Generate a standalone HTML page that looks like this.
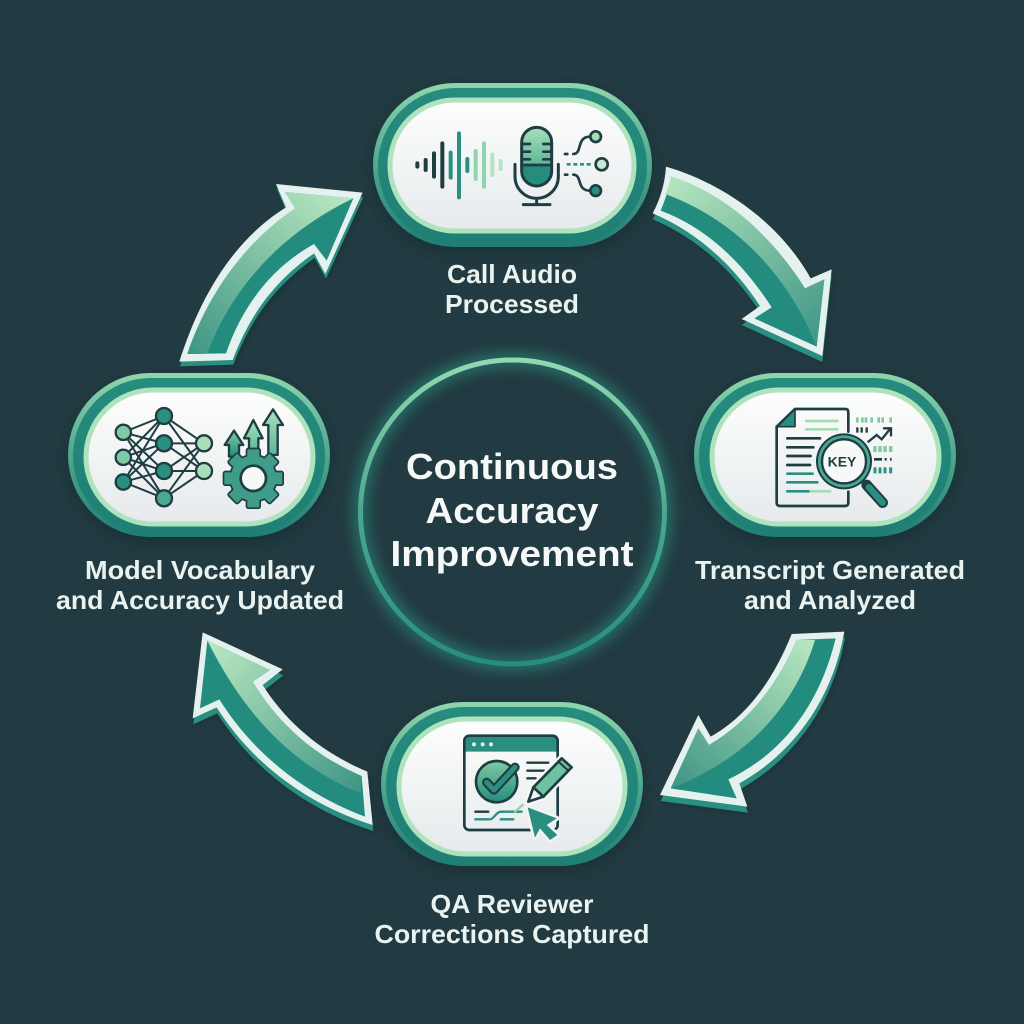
<!DOCTYPE html>
<html lang="en"><head><meta charset="utf-8"><title>Continuous Accuracy Improvement</title>
<style>html,body{margin:0;padding:0;background:#223a41}svg{display:block}text{font-family:"Liberation Sans",sans-serif}</style></head>
<body>
<svg xmlns="http://www.w3.org/2000/svg" width="1024" height="1024" viewBox="0 0 1024 1024">
<defs>
<linearGradient id="rim" x1="0" y1="0" x2="0" y2="1"><stop offset="0" stop-color="#8fd6ae"/><stop offset=".5" stop-color="#4fa890"/><stop offset="1" stop-color="#1f7e73"/></linearGradient>
<linearGradient id="ring" x1="0" y1="0" x2="0" y2="1"><stop offset="0" stop-color="#268c7e"/><stop offset="1" stop-color="#1f7f74"/></linearGradient>
<linearGradient id="white" x1="0" y1="0" x2="0" y2="1"><stop offset="0" stop-color="#fdfefd"/><stop offset="1" stop-color="#e6eaec"/></linearGradient>
<linearGradient id="a1" gradientUnits="userSpaceOnUse" x1="90" y1="80" x2="540" y2="580"><stop offset="0" stop-color="#b6e6bf"/><stop offset="1" stop-color="#3f9685"/></linearGradient>
<linearGradient id="a2" gradientUnits="userSpaceOnUse" x1="500" y1="70" x2="60" y2="550"><stop offset="0" stop-color="#b6e6bf"/><stop offset="1" stop-color="#3f9685"/></linearGradient>
<linearGradient id="a3" gradientUnits="userSpaceOnUse" x1="500" y1="60" x2="100" y2="500"><stop offset="0" stop-color="#b6e6bf"/><stop offset="1" stop-color="#3f9685"/></linearGradient>
<linearGradient id="a4" gradientUnits="userSpaceOnUse" x1="130" y1="80" x2="570" y2="510"><stop offset="0" stop-color="#b6e6bf"/><stop offset="1" stop-color="#3f9685"/></linearGradient>
<linearGradient id="g1" x1="0" y1="0" x2="0" y2="1"><stop offset="0" stop-color="#a9e0b8"/><stop offset="1" stop-color="#5db69a"/></linearGradient>
<linearGradient id="g2" x1="0" y1="0" x2="0" y2="1"><stop offset="0" stop-color="#7fcba3"/><stop offset="1" stop-color="#258c7e"/></linearGradient>
<linearGradient id="cr" x1="0" y1="0" x2="0" y2="1"><stop offset="0" stop-color="#92d9b2"/><stop offset=".5" stop-color="#4aa890"/><stop offset="1" stop-color="#258e80"/></linearGradient>
<filter id="blur" x="-30%" y="-30%" width="160%" height="160%"><feGaussianBlur stdDeviation="7"/></filter>
<filter id="blur2" x="-30%" y="-30%" width="160%" height="160%"><feGaussianBlur stdDeviation="6"/></filter>
<g id="gear"><circle cx="595" cy="355" r="68"/><rect x="577" y="268" width="36" height="30" rx="3"/><rect x="577" y="268" width="36" height="30" rx="3" transform="rotate(45 595 355)"/><rect x="577" y="268" width="36" height="30" rx="3" transform="rotate(90 595 355)"/><rect x="577" y="268" width="36" height="30" rx="3" transform="rotate(135 595 355)"/><rect x="577" y="268" width="36" height="30" rx="3" transform="rotate(180 595 355)"/><rect x="577" y="268" width="36" height="30" rx="3" transform="rotate(225 595 355)"/><rect x="577" y="268" width="36" height="30" rx="3" transform="rotate(270 595 355)"/><rect x="577" y="268" width="36" height="30" rx="3" transform="rotate(315 595 355)"/></g>
</defs>
<rect width="1024" height="1024" fill="#223a41"/>

<!-- center -->
<circle cx="512.5" cy="512" r="152" fill="none" stroke="#2a9a87" stroke-width="14" opacity=".6" filter="url(#blur)"/>
<circle cx="512.5" cy="512" r="152" fill="none" stroke="url(#cr)" stroke-width="5"/>
<g fill="#f5f9f8" font-weight="700" font-size="36" text-anchor="middle">
<text x="512" y="479" textLength="212" lengthAdjust="spacingAndGlyphs">Continuous</text>
<text x="512" y="523" textLength="173" lengthAdjust="spacingAndGlyphs">Accuracy</text>
<text x="512" y="566" textLength="243" lengthAdjust="spacingAndGlyphs">Improvement</text>
</g>

<!-- pills -->
<g>
<rect x="373" y="88" width="279" height="164" rx="82" fill="#10262b" opacity=".45" filter="url(#blur2)"/>
<rect x="373" y="83" width="279" height="164" rx="82" fill="url(#rim)"/>
<rect x="378" y="88" width="269" height="156" rx="78" fill="url(#ring)"/>
<rect x="390" y="100" width="244" height="131" rx="65" fill="url(#white)" stroke="#aee3bd" stroke-width="5"/>
</g>
<g>
<rect x="694" y="378" width="262" height="164" rx="82" fill="#10262b" opacity=".45" filter="url(#blur2)"/>
<rect x="694" y="373" width="262" height="164" rx="82" fill="url(#rim)"/>
<rect x="699" y="378" width="252" height="156" rx="78" fill="url(#ring)"/>
<rect x="712" y="390" width="227" height="134" rx="67" fill="url(#white)" stroke="#aee3bd" stroke-width="5"/>
</g>
<g>
<rect x="381" y="707" width="262" height="164" rx="82" fill="#10262b" opacity=".45" filter="url(#blur2)"/>
<rect x="381" y="702" width="262" height="164" rx="82" fill="url(#rim)"/>
<rect x="386" y="707" width="252" height="156" rx="78" fill="url(#ring)"/>
<rect x="399" y="719" width="226" height="135" rx="67" fill="url(#white)" stroke="#aee3bd" stroke-width="5"/>
</g>
<g>
<rect x="68" y="378" width="262" height="164" rx="82" fill="#10262b" opacity=".45" filter="url(#blur2)"/>
<rect x="68" y="373" width="262" height="164" rx="82" fill="url(#rim)"/>
<rect x="73" y="378" width="252" height="156" rx="78" fill="url(#ring)"/>
<rect x="86" y="390" width="227" height="134" rx="67" fill="url(#white)" stroke="#aee3bd" stroke-width="5"/>
</g>

<!-- arrow 1 -->
<g transform="translate(640 150) scale(.33333)">
<path d="M78,50C250,100 420,220 512,385L575,358L547,618L305,507L360,468C280,345 170,245 38,190C60,150 75,100 78,50Z" fill="#10262b" opacity=".35" transform="translate(6,20)" filter="url(#blur2)"/>
<path d="M78,50C250,100 420,220 512,385L575,358L547,618L305,507L360,468C280,345 170,245 38,190C60,150 75,100 78,50Z" fill="#2a8f80" transform="translate(0,18)"/>
<path d="M78,50C250,100 420,220 512,385L575,358L547,618L305,507L360,468C280,345 170,245 38,190C60,150 75,100 78,50Z" fill="#e4f1ee"/>
<path d="M93,80C250,130 390,250 495,415L553,388L530,590L343,505L395,472C300,325 190,230 62,182C75,150 88,115 93,80Z" fill="#248c7f"/>
<path d="M93,80C250,130 390,250 495,415L553,388L530,590C470,440 340,230 76,132C84,115 90,98 93,80Z" fill="url(#a1)"/>
</g>
<!-- arrow 2 -->
<g transform="translate(170 170) scale(.33333)">
<path d="M318,42L578,68L466,312L432,250C325,325 245,420 188,570L28,575C90,380 190,210 348,112Z" fill="#10262b" opacity=".35" transform="translate(8,18)" filter="url(#blur2)"/>
<path d="M318,42L578,68L466,312L432,250C325,325 245,420 188,570L28,575C90,380 190,210 348,112Z" fill="#2a8f80" transform="translate(2,14)"/>
<path d="M318,42L578,68L466,312L432,250C325,325 245,420 188,570L28,575C90,380 190,210 348,112Z" fill="#e4f1ee"/>
<path d="M345,66L550,85L470,272L432,222C310,290 220,400 168,550L52,552C110,380 220,220 376,115Z" fill="#248c7f"/>
<path d="M345,66L550,85C350,180 190,340 112,551L52,552C110,380 220,220 376,115Z" fill="url(#a2)"/>
</g>
<!-- arrow 3 -->
<g transform="translate(640 620) scale(.33333)">
<path d="M455,42L613,35C575,250 450,405 298,490L322,560L60,525L175,285L212,350C320,290 400,180 455,42Z" fill="#10262b" opacity=".35" transform="translate(6,22)" filter="url(#blur2)"/>
<path d="M455,42L613,35C575,250 450,405 298,490L322,560L60,525L175,285L212,350C320,290 400,180 455,42Z" fill="#2a8f80" transform="translate(2,18)"/>
<path d="M455,42L613,35C575,250 450,405 298,490L322,560L60,525L175,285L212,350C320,290 400,180 455,42Z" fill="#e4f1ee"/>
<path d="M470,60L587,55C540,250 430,400 265,478L290,535L92,505L175,325L207,375C320,310 410,200 470,60Z" fill="#248c7f"/>
<path d="M470,60L525,60C470,240 340,410 92,505L175,325L207,375C320,310 410,200 470,60Z" fill="url(#a3)"/>
</g>
<!-- arrow 4 -->
<g transform="translate(170 620) scale(.33333)">
<path d="M98,37L338,148L278,195C350,310 460,400 592,455L608,615C400,550 240,420 140,262L68,295Z" fill="#10262b" opacity=".35" transform="translate(6,22)" filter="url(#blur2)"/>
<path d="M98,37L338,148L278,195C350,310 460,400 592,455L608,615C400,550 240,420 140,262L68,295Z" fill="#2a8f80" transform="translate(2,18)"/>
<path d="M98,37L338,148L278,195C350,310 460,400 592,455L608,615C400,550 240,420 140,262L68,295Z" fill="#e4f1ee"/>
<path d="M112,62L300,150L248,185C330,320 440,410 575,468L585,590C400,520 250,400 148,238L90,265Z" fill="#248c7f"/>
<path d="M112,62L300,150L248,185C330,320 440,410 575,468L572,520C400,450 240,320 112,62Z" fill="url(#a4)"/>
</g>

<!-- icon 1 -->
<g transform="translate(360 70) scale(.33333)" fill="none" stroke-linecap="round">
<g stroke-width="12" stroke="#1f3d42"><path d="M172,280V290M197,270V300M222,250V320M247,220V350"/></g>
<g stroke-width="12" stroke="#2a9080"><path d="M272,248V323M297,190V382M322,267V303"/></g>
<g stroke-width="12" stroke="#8fd4ab"><path d="M347,243V327M372,220V350"/></g>
<g stroke-width="12" stroke="#b5e4c0"><path d="M397,253V315M422,273V297"/></g>
<path d="M485,285V217A45,45 0 0 1 575,217V285Z" fill="url(#g1)"/>
<path d="M485,285H575V303A45,45 0 0 1 485,303Z" fill="#258c7e"/>
<rect x="485" y="172" width="90" height="176" rx="45" stroke="#1f3d42" stroke-width="9"/>
<path d="M485,285H575M488,222H510M550,222H572M488,245H510M550,245H572M488,268H510M550,268H572" stroke="#1f3d42" stroke-width="8"/>
<path d="M465,283V320A65,65 0 0 0 595,320V283M530,385V404M490,404H570" stroke="#1f3d42" stroke-width="9"/>
<path d="M640,252C668,252 648,200 690,200M640,314C668,314 648,362 690,362" stroke="#1f3d42" stroke-width="8"/>
<path d="M615,252H622M615,314H622" stroke="#1f3d42" stroke-width="8"/>
<path d="M620,283H700" stroke="#2a8f80" stroke-width="8" stroke-dasharray="12 8" stroke-linecap="butt"/>
<circle cx="707" cy="200" r="16" fill="#a5dcb5" stroke="#1f3d42" stroke-width="8"/>
<circle cx="725" cy="283" r="18" fill="#c6e9cf" stroke="#1f3d42" stroke-width="8"/>
<circle cx="707" cy="362" r="16" fill="#2a8f80" stroke="#1f3d42" stroke-width="8"/>
</g>

<!-- icon 2 -->
<g transform="translate(680 360) scale(.33333)" fill="none" stroke-linecap="round">
<path d="M505,215V157Q505,147 495,147H345L290,200V428Q290,438 300,438H495Q505,438 505,428V395" stroke="#1f3d42" stroke-width="8"/>
<path d="M345,147V200H292Z" fill="#2a8f80" stroke="#1f3d42" stroke-width="5" stroke-linejoin="round"/>
<g stroke-width="8">
<path d="M378,183H472M378,208H472M385,394H450" stroke="#a5dcb5"/>
<path d="M322,235H420M322,262H400M322,288H392M322,315H390" stroke="#1f3d42"/>
<path d="M322,341H398M322,367H412M322,394H385" stroke="#2a8f80"/>
</g>
<path d="M560,375L608,428" stroke="#1f3d42" stroke-width="32"/>
<path d="M567,382L608,428" stroke="#2a8f80" stroke-width="20"/>
<circle cx="492" cy="304" r="84" fill="#1f3d42"/>
<circle cx="492" cy="304" r="78" fill="#4aa893"/>
<circle cx="492" cy="304" r="66" fill="#f7f9f8" stroke="#1f3d42" stroke-width="7"/>
<text x="486" y="320" font-size="42" font-weight="700" fill="#1f3d42" stroke="none" text-anchor="middle">KEY</text>
<path d="M565,245L590,225L605,238L630,207M612,205H633V226" stroke="#1f3d42" stroke-width="7"/>
<g stroke-linecap="butt">
<path d="M532,172V188M547,172V188M558,172V188M575,172V188M596,172V188M608,172V188M632,172V188" stroke="#7fc9a5" stroke-width="8"/>
<path d="M532,202V218M545,202V218M560,202V218" stroke="#1f3d42" stroke-width="7"/>
<path d="M585,258V276M600,258V276M615,258V276M632,258V276" stroke="#7fc9a5" stroke-width="10"/>
<path d="M582,298H606M614,298H620M630,298H635" stroke="#1f3d42" stroke-width="8"/>
<path d="M585,322V340M600,322V340M615,322V340M632,322V340" stroke="#2a8f80" stroke-width="9"/>
</g>
</g>

<!-- icon 3 -->
<g transform="translate(370 690) scale(.33333)" fill="none" stroke-linecap="round" stroke-linejoin="round">
<path d="M283,152Q283,137 298,137H548Q563,137 563,152V185H283Z" fill="#2a8f80"/>
<rect x="283" y="137" width="280" height="283" rx="15" stroke="#1f3d42" stroke-width="8"/>
<g fill="#e4f1ee"><circle cx="312" cy="163" r="6"/><circle cx="338" cy="163" r="6"/><circle cx="363" cy="163" r="6"/></g>
<circle cx="380" cy="275" r="62" fill="url(#g2)" stroke="#1f3d42" stroke-width="8"/>
<path d="M350,277L372,300L435,232" stroke="#1f3d42" stroke-width="28"/>
<path d="M350,277L372,300L435,232" stroke="#2a8f80" stroke-width="15"/>
<path d="M472,218H535M472,242H522M472,265H497" stroke="#1f3d42" stroke-width="7"/>
<path d="M316,365H355" stroke="#1f3d42" stroke-width="7"/>
<path d="M316,388H355M392,388H430M360,388C375,385 375,368 392,365H455" stroke="#2a8f80" stroke-width="7"/>
<path d="M435,365L458,345" stroke="#8fd4ab" stroke-width="7"/>
<path d="M475,335L490,292L575,205L605,232L520,320Z" fill="#f4f7f7" stroke="#f4f7f7" stroke-width="22"/>
<path d="M490,292L575,205L605,232L520,320Z" fill="#6fc29f" stroke="#1f3d42" stroke-width="8"/>
<path d="M475,335L490,292L520,320Z" fill="#f4f7f7" stroke="#1f3d42" stroke-width="8"/>
<path d="M565,215L595,242" stroke="#1f3d42" stroke-width="6"/>
<path d="M473,352L560,385L530,405L562,435L540,450L510,415L495,443Z" fill="#2a8f80" stroke="#f1f4f5" stroke-width="16"/>
<path d="M473,352L560,385L530,405L562,435L540,450L510,415L495,443Z" fill="#2a8f80"/>
</g>

<!-- icon 4 -->
<g transform="translate(55 360) scale(.33333)" stroke-linecap="round" stroke-linejoin="round">
<path d="M205,217L327,168M205,217L327,250M205,217L327,333M205,217L327,415M205,292L327,168M205,292L327,250M205,292L327,333M205,292L327,415M205,366L327,168M205,366L327,250M205,366L327,333M205,366L327,415M327,168L447,250M327,168L447,333M327,250L447,250M327,250L447,333M327,333L447,250M327,333L447,333M327,415L447,250M327,415L447,333" fill="none" stroke="#1f3d42" stroke-width="6"/>
<g stroke="#1f3d42" stroke-width="7">
<circle cx="205" cy="217" r="23" fill="#7fcba3"/><circle cx="205" cy="292" r="23" fill="#7fcba3"/><circle cx="205" cy="366" r="23" fill="#2a8f80"/>
<circle cx="327" cy="168" r="24" fill="#2a8f80"/><circle cx="327" cy="250" r="24" fill="#2a8f80"/><circle cx="327" cy="333" r="24" fill="#2a8f80"/><circle cx="327" cy="415" r="24" fill="#4aa893"/>
<circle cx="447" cy="250" r="24" fill="#a9dfb8"/><circle cx="447" cy="333" r="24" fill="#a9dfb8"/>
<path d="M537,212L565,255H552V290H522V255H509Z" fill="url(#g2)"/>
<path d="M595,180L623,235H610V275H582V235H567Z" fill="url(#g1)"/>
<path d="M654,148L684,195H668V285H640V195H624Z" fill="url(#g1)"/>
</g>
<use href="#gear" fill="#1f3d42" stroke="#1f3d42" stroke-width="10"/>
<use href="#gear" fill="#3e9c88"/>
<circle cx="595" cy="355" r="38" fill="#f7f9f8" stroke="#1f3d42" stroke-width="8"/>
</g>

<!-- labels -->
<g fill="#e9f3ef" font-weight="700" font-size="26" text-anchor="middle">
<text x="512" y="283" textLength="130" lengthAdjust="spacingAndGlyphs">Call Audio</text>
<text x="512" y="313" textLength="134" lengthAdjust="spacingAndGlyphs">Processed</text>
<text x="830" y="579" textLength="270" lengthAdjust="spacingAndGlyphs">Transcript Generated</text>
<text x="830" y="609" textLength="172" lengthAdjust="spacingAndGlyphs">and Analyzed</text>
<text x="200" y="579" textLength="230" lengthAdjust="spacingAndGlyphs">Model Vocabulary</text>
<text x="200" y="609" textLength="288" lengthAdjust="spacingAndGlyphs">and Accuracy Updated</text>
<text x="512" y="913" textLength="163" lengthAdjust="spacingAndGlyphs">QA Reviewer</text>
<text x="512" y="943" textLength="275" lengthAdjust="spacingAndGlyphs">Corrections Captured</text>
</g>
</svg>
</body></html>
